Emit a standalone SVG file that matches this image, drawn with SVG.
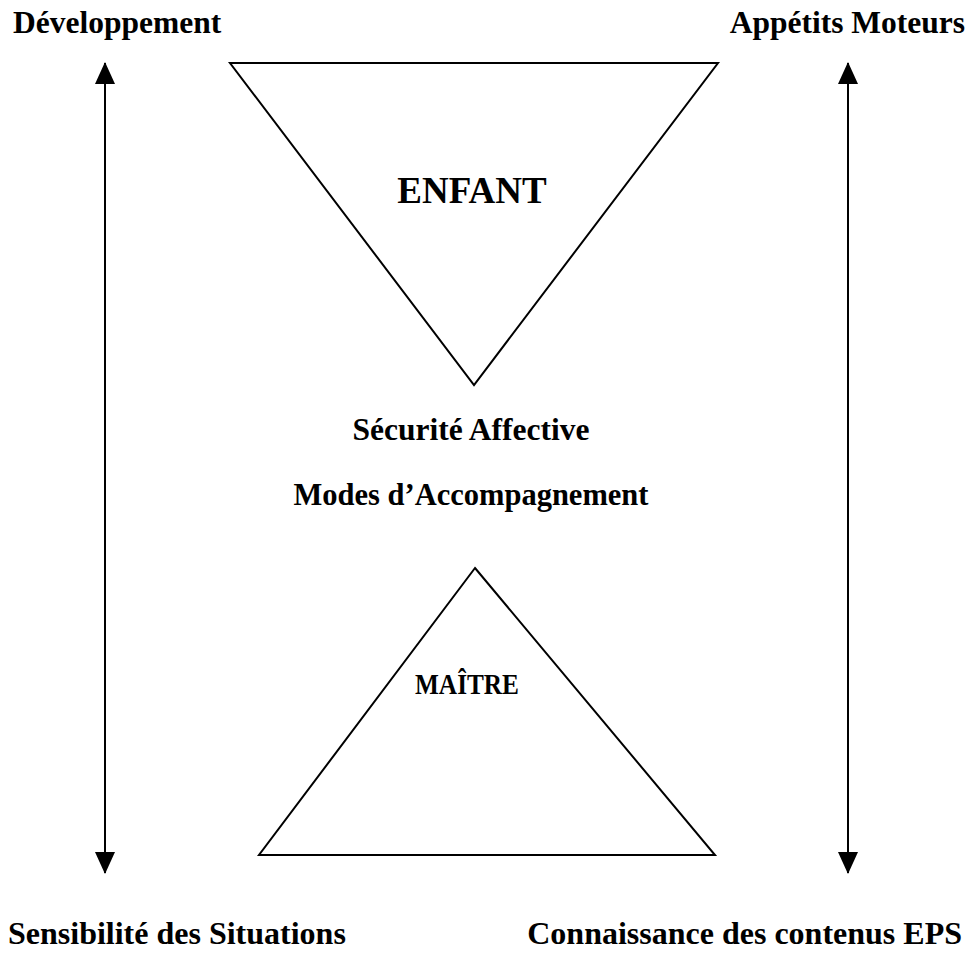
<svg xmlns="http://www.w3.org/2000/svg" width="972" height="958" viewBox="0 0 972 958">
<style>
text{font-family:"Liberation Serif","Times New Roman",serif;font-weight:bold;fill:#000}
.t{font-size:31.5px}
.b{font-size:32px}
.big{font-size:37px}
.sm{font-size:29px}
.shape{fill:none;stroke:#000;stroke-width:2;stroke-linejoin:miter}
.conn{stroke:#000;stroke-width:2;fill:none}
</style>
<defs>
<marker id="ah" viewBox="0 0 22 20" refX="21" refY="10" markerWidth="22" markerHeight="20" markerUnits="userSpaceOnUse" orient="auto-start-reverse">
<path d="M0,0 L22,10 L0,20 z" fill="#000"/>
</marker>
</defs>
<rect width="972" height="958" fill="#fff"/>
<g id="connectors">
<line class="conn" x1="105" y1="63" x2="105" y2="873" marker-start="url(#ah)" marker-end="url(#ah)"/>
<line class="conn" x1="848" y1="63" x2="848" y2="873" marker-start="url(#ah)" marker-end="url(#ah)"/>
</g>
<g id="enfant">
<polygon class="shape" points="230,63 718,63 474,385"/>
<text class="big" x="472" y="203" text-anchor="middle">ENFANT</text>
</g>
<g id="maitre">
<polygon class="shape" points="475,568 715,855 259,855"/>
<text class="sm" x="467" y="694" text-anchor="middle" textLength="104" lengthAdjust="spacingAndGlyphs">MAÎTRE</text>
</g>
<g id="securite">
<text class="t" x="471" y="440" text-anchor="middle">Sécurité Affective</text>
</g>
<g id="modes">
<text class="t" x="471" y="505" text-anchor="middle" style="font-size:30.5px">Modes d’Accompagnement</text>
</g>
<g id="developpement">
<text class="t" x="13" y="33">Développement</text>
</g>
<g id="appetits">
<text class="t" x="965" y="33" text-anchor="end">Appétits Moteurs</text>
</g>
<g id="sensibilite">
<text class="b" x="8" y="944">Sensibilité des Situations</text>
</g>
<g id="connaissance">
<text class="b" x="962" y="944" text-anchor="end">Connaissance des contenus EPS</text>
</g>
</svg>
